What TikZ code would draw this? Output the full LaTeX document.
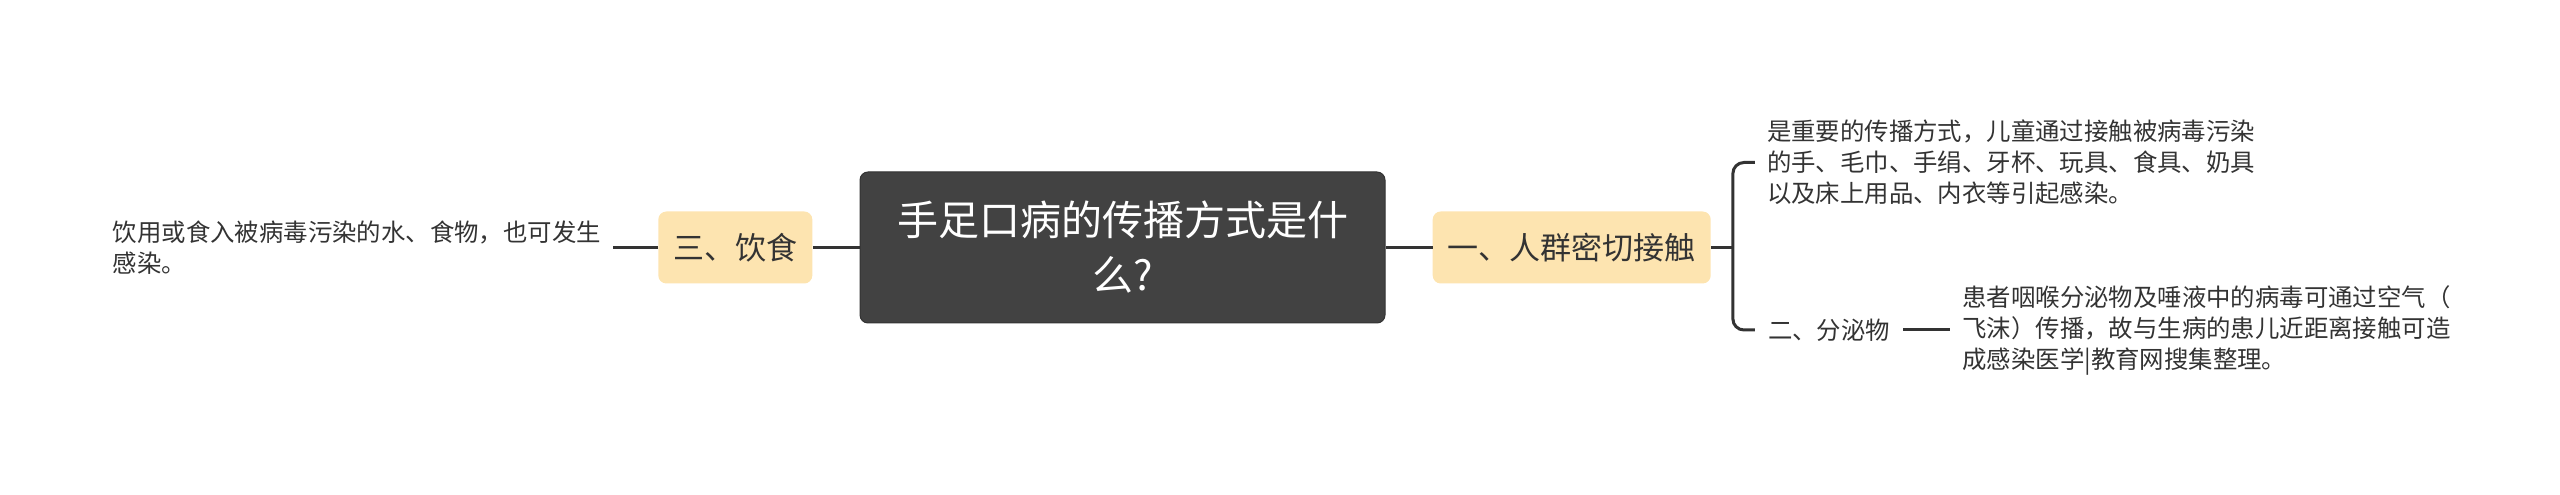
\documentclass[tikz,border=0pt]{standalone}
\usepackage{fontspec}
\setmainfont{Noto Sans CJK SC}
\usetikzlibrary{positioning,calc}
\usepackage{xcolor}
\definecolor{rootfill}{RGB}{66,66,66}
\definecolor{branchfill}{RGB}{253,228,176}
\definecolor{linkgray}{RGB}{51,51,51}

\begin{document}
\begin{tikzpicture}[
    every node/.style={text=linkgray, inner ysep=2pt}, % General node style
    root/.style={fill=rootfill, draw=linkgray, line width=1pt, rounded corners=8pt, text=white,
        font=\fontsize{41pt}{55pt}\selectfont, text width=460pt, align=center,
        minimum width=525pt, minimum height=151pt, inner sep=0pt}, % Central topic
    branch/.style={fill=branchfill, rounded corners=8pt, font=\fontsize{31pt}{38pt}\selectfont,
        inner xsep=15pt, minimum height=72pt}, % Main branches
    sub/.style={font=\fontsize{24.4pt}{31pt}\selectfont, inner xsep=13pt}, % Sub topic
    leaf/.style={font=\fontsize{24.4pt}{31pt}\selectfont, text width=488pt, align=left, inner xsep=12pt}, % Detail text
    link/.style={draw=linkgray, line width=3pt}
]
\useasboundingbox (0,0) rectangle (2560pt,495pt);

\node[root] (root) at (1122.5pt,247.5pt) {手足口病的传播方式是什\\么?};

% right side
\node[branch, right=47pt of root] (contact) {一、人群密切接触};
\node[leaf, right=44pt of contact, yshift=85pt] (contacttext)
    {是重要的传播方式，儿童通过接触被病毒污染\\的手、毛巾、手绢、牙杯、玩具、食具、奶具\\以及床上用品、内衣等引起感染。};
\node[sub, right=44pt of contact, yshift=-82.5pt] (secretion) {二、分泌物};
\node[leaf, right=47pt of secretion] (secretiontext)
    {患者咽喉分泌物及唾液中的病毒可通过空气（\\飞沫）传播，故与生病的患儿近距离接触可造\\成感染医学|教育网搜集整理。};

% left side
\node[branch, left=47pt of root] (diet) {三、饮食};
\node[leaf, left=45pt of diet] (diettext) {饮用或食入被病毒污染的水、食物，也可发生\\感染。};

\coordinate (fork) at ($(contact.east)+(22pt,0)$);
\draw[link] (root) -- (contact);
\draw[link] (contact.east) -- (fork);
\draw[link, rounded corners=11pt] (contacttext.west) -| (fork) |- (secretion.west);
\draw[link] (secretion) -- (secretiontext);
\draw[link] (root) -- (diet);
\draw[link] (diet) -- (diettext);
\end{tikzpicture}
\end{document}
